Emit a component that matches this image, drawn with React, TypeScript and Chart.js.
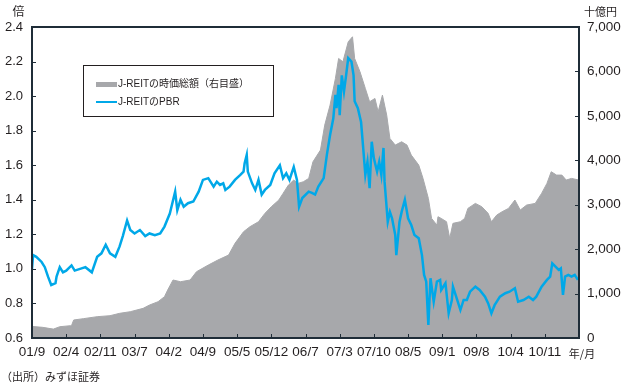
import React, { useEffect, useRef } from 'react';
import { Chart, registerables } from 'chart.js';

Chart.register(...registerables);

// x axis: weeks since 2001/9, one label every 32 weeks
const tickLabels = ['01/9', '02/4', '02/11', '03/7', '04/2', '04/9', '05/5', '05/12', '06/7', '07/3', '07/10', '08/5', '09/1', '09/8', '10/4', '10/11', ''];

// J-REIT PBR (left axis, 倍)
const pbrWeeks = [0, 1, 4, 9, 12, 15, 18, 22, 23, 26, 29, 32, 37, 40, 45, 50, 56, 61, 65, 69, 73, 78, 82, 85, 89, 92, 96, 101, 106, 110, 115, 120, 124, 129, 134, 136, 139, 142, 146, 151, 156, 160, 165, 170, 173, 176, 179, 181, 185, 190, 195, 198, 199, 201, 202, 206, 209, 212, 215, 218, 223, 227, 232, 235, 238, 241, 245, 248, 250, 253, 259, 262, 265, 268, 273, 276, 279, 282, 284, 285, 287, 288, 290, 292, 294, 296, 299, 301, 302, 305, 308, 310, 312, 314, 316, 318, 320, 323, 325, 327, 329, 330, 333, 335, 337, 340, 341, 344, 346, 349, 352, 355, 358, 362, 365, 367, 369, 371, 373, 376, 379, 382, 383, 387, 390, 393, 394, 398, 401, 404, 407, 410, 415, 419, 424, 427, 430, 433, 438, 443, 447, 452, 455, 460, 465, 469, 472, 477, 482, 485, 487, 490, 493, 495, 497, 499, 502, 505, 508, 511];
const pbrValues = [1.0, 1.08, 1.07, 1.04, 1.01, 0.955, 0.907, 0.918, 0.955, 1.01, 0.98, 0.99, 1.02, 0.99, 1.0, 1.01, 0.98, 1.07, 1.09, 1.14, 1.09, 1.07, 1.13, 1.19, 1.28, 1.225, 1.205, 1.225, 1.19, 1.205, 1.195, 1.205, 1.245, 1.32, 1.447, 1.34, 1.4, 1.36, 1.38, 1.39, 1.447, 1.515, 1.525, 1.476, 1.505, 1.486, 1.495, 1.457, 1.476, 1.515, 1.544, 1.563, 1.61, 1.66, 1.563, 1.495, 1.457, 1.515, 1.43, 1.457, 1.486, 1.553, 1.6, 1.525, 1.553, 1.515, 1.59, 1.515, 1.36, 1.41, 1.447, 1.44, 1.43, 1.476, 1.525, 1.66, 1.775, 1.87, 2.007, 1.93, 2.065, 1.89, 2.12, 2.026, 2.12, 2.22, 2.2, 2.12, 1.97, 1.93, 1.85, 1.7, 1.544, 1.62, 1.467, 1.736, 1.64, 1.563, 1.62, 1.544, 1.7, 1.505, 1.273, 1.33, 1.293, 1.196, 1.08, 1.273, 1.33, 1.4, 1.293, 1.254, 1.196, 1.177, 1.08, 0.965, 0.926, 0.675, 0.946, 0.81, 0.926, 0.936, 0.878, 0.917, 0.743, 0.82, 0.897, 0.82, 0.762, 0.82, 0.82, 0.868, 0.897, 0.878, 0.839, 0.8, 0.743, 0.79, 0.839, 0.859, 0.868, 0.888, 0.81, 0.82, 0.839, 0.82, 0.839, 0.897, 0.936, 0.955, 1.032, 1.013, 0.994, 1.003, 0.849, 0.955, 0.965, 0.955, 0.965, 0.936];

// J-REIT market capitalisation (right axis, 十億円)
const capWeeks = [0, 10, 20, 26, 36, 37, 39, 48, 61, 73, 82, 92, 104, 110, 118, 124, 127, 132, 139, 148, 154, 165, 174, 184, 190, 198, 204, 212, 218, 224, 231, 235, 240, 245, 249, 254, 259, 263, 270, 274, 279, 284, 287, 291, 296, 300, 302, 307, 312, 316, 321, 324, 328, 332, 335, 340, 346, 351, 355, 362, 366, 371, 374, 379, 380, 383, 388, 391, 394, 401, 405, 408, 415, 421, 427, 430, 435, 440, 446, 452, 457, 463, 471, 477, 482, 486, 491, 496, 500, 505, 512];
const capValues = [260, 240, 200, 254, 277, 280, 405, 435, 480, 502, 555, 592, 667, 742, 817, 930, 1080, 1305, 1267, 1305, 1492, 1642, 1755, 1867, 2130, 2392, 2505, 2617, 2805, 2955, 3105, 3255, 3442, 3555, 3480, 3517, 3592, 3967, 4230, 4792, 5242, 5842, 6292, 6217, 6667, 6780, 6292, 5992, 5617, 5317, 5392, 5092, 5467, 5017, 4492, 4342, 4417, 4342, 4117, 3892, 3592, 3142, 2692, 2542, 2730, 2692, 2617, 2242, 2580, 2617, 2692, 2917, 3030, 2955, 2805, 2617, 2767, 2842, 2917, 3105, 2880, 2992, 3030, 3255, 3480, 3742, 3667, 3667, 3555, 3592, 3555];

const TEXT = '#231f20';
const FRAME = '#1f2d38';
const GRAY = '#a7a8ab';
const BLUE = '#00a8e8';
const LATIN = "'Liberation Sans', Arial, 'Noto Sans CJK JP', sans-serif";
const NARROW = "'Liberation Sans Narrow', 'Arial Narrow', 'Liberation Sans', sans-serif";
const JP = "'Noto Sans CJK JP', 'Liberation Sans', sans-serif";

const decor = {
  id: 'decor',
  afterDraw(chart: any) {
    const { ctx, chartArea: a, scales } = chart;
    ctx.save();
    // inward tick marks
    ctx.strokeStyle = FRAME;
    ctx.lineWidth = 1;
    ctx.beginPath();
    scales.x.ticks.forEach((t: any) => {
      if (t.value <= 0 || t.value >= 512) return;
      const px = Math.round(scales.x.getPixelForValue(t.value)) + 0.5;
      ctx.moveTo(px, a.bottom);
      ctx.lineTo(px, a.bottom - 4);
    });
    scales.y.ticks.forEach((t: any) => {
      const py = Math.round(scales.y.getPixelForValue(t.value)) + 0.5;
      ctx.moveTo(a.left, py);
      ctx.lineTo(a.left + 4, py);
    });
    scales.y1.ticks.forEach((t: any) => {
      const py = Math.round(scales.y1.getPixelForValue(t.value)) + 0.5;
      ctx.moveTo(a.right, py);
      ctx.lineTo(a.right - 4, py);
    });
    ctx.stroke();
    // frame
    ctx.lineWidth = 2;
    ctx.strokeRect(a.left, a.top, a.right - a.left, a.bottom - a.top);

    // legend
    ctx.fillStyle = '#ffffff';
    ctx.fillRect(83, 65, 190, 51);
    ctx.lineWidth = 1;
    ctx.strokeStyle = TEXT;
    ctx.strokeRect(83.5, 65.5, 190, 51);
    ctx.fillStyle = GRAY;
    ctx.fillRect(96, 82, 21, 5);
    ctx.strokeStyle = BLUE;
    ctx.lineWidth = 2;
    ctx.beginPath();
    ctx.moveTo(96, 102);
    ctx.lineTo(117, 102);
    ctx.stroke();
    ctx.fillStyle = TEXT;
    ctx.font = `10px ${LATIN}`;
    ctx.textBaseline = 'middle';
    ctx.textAlign = 'left';
    ctx.fillText('J-REITの時価総額（右目盛）', 118, 84.5);
    ctx.fillText('J-REITのPBR', 118, 102.5);

    // axis titles and notes
    ctx.font = `12px ${JP}`;
    ctx.textAlign = 'center';
    ctx.fillText('倍', 18.5, 11.5);
    ctx.font = `11px ${JP}`;
    ctx.fillText('十億円', 600.5, 11.5);
    ctx.fillText('年/月', 582, 354);
    ctx.textAlign = 'left';
    ctx.fillText('（出所）みずほ証券', 1, 377);
    ctx.restore();
  },
};

export default function App() {
  const ref = useRef<HTMLCanvasElement>(null);
  useEffect(() => {
    document.body.style.margin = '0';
    const canvas = ref.current!;
    const chart = new Chart(canvas, {
      type: 'line',
      data: {
        datasets: [
          {
            label: 'J-REITのPBR',
            data: pbrWeeks.map((w, i) => ({ x: w, y: pbrValues[i] })),
            yAxisID: 'y',
            borderColor: BLUE,
            borderWidth: 2.5,
            pointRadius: 0,
            tension: 0,
            fill: false,
            order: 0,
          },
          {
            label: 'J-REITの時価総額（右目盛）',
            data: capWeeks.map((w, i) => ({ x: w, y: capValues[i] })),
            yAxisID: 'y1',
            borderColor: GRAY,
            borderWidth: 1,
            backgroundColor: GRAY,
            pointRadius: 0,
            tension: 0,
            fill: 'origin',
            order: 1,
          },
        ],
      },
      options: {
        responsive: false,
        animation: false,
        devicePixelRatio: 1,
        layout: { padding: { top: 27, left: 0, right: 0, bottom: 0 } },
        plugins: { legend: { display: false }, tooltip: { enabled: false } },
        scales: {
          x: {
            type: 'linear',
            min: 0,
            max: 512,
            grid: { display: false, drawTicks: false },
            border: { display: false },
            afterFit: (s: any) => { s.height = 53; },
            afterBuildTicks: (s: any) => {
              s.ticks = tickLabels.map((_, i) => ({ value: i * 32 }));
            },
            ticks: {
              autoSkip: false,
              maxRotation: 0,
              minRotation: 0,
              padding: 6,
              color: TEXT,
              font: { family: LATIN, size: 13.5 },
              callback: (v: any) => tickLabels[Math.round(v / 32)] ?? '',
            },
          },
          y: {
            position: 'left',
            min: 0.6,
            max: 2.4,
            grid: { display: false, drawTicks: false },
            border: { display: false },
            afterFit: (s: any) => { s.width = 32; },
            ticks: {
              stepSize: 0.2,
              padding: 9,
              color: TEXT,
              font: { family: LATIN, size: 13 },
              callback: (v: any) => Number(v).toFixed(1),
            },
          },
          y1: {
            position: 'right',
            min: 0,
            max: 7000,
            grid: { display: false, drawTicks: false },
            border: { display: false },
            afterFit: (s: any) => { s.width = 49; },
            ticks: {
              stepSize: 1000,
              padding: 8,
              color: TEXT,
              font: { family: NARROW, size: 13.5 },
              callback: (v: any) => Number(v).toLocaleString('en-US'),
            },
          },
        },
      },
      plugins: [decor],
    });
    return () => chart.destroy();
  }, []);
  return (
    <div style={{ position: 'fixed', left: 0, top: 0, width: 628, height: 391, background: '#fff' }}>
      <canvas ref={ref} width={628} height={391} />
    </div>
  );
}
